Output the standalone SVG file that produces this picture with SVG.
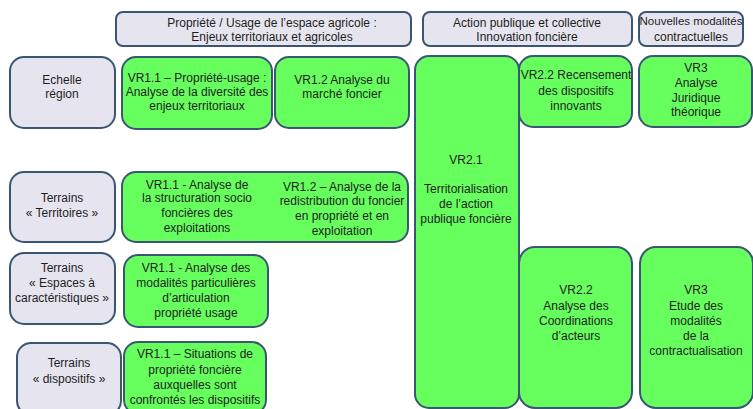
<svg xmlns="http://www.w3.org/2000/svg" width="753" height="409" viewBox="0 0 753 409">
<style>
.g{fill:#66ff5e;stroke:#3b5575;stroke-width:2}
.l{fill:#e6e5ef;stroke:#3b5575;stroke-width:2}
text{font-family:"Liberation Sans",Arial,sans-serif;font-size:12px;fill:#1e1e1e;text-anchor:middle}
</style>
<rect width="753" height="409" fill="#ffffff"/>
<g id="h1"><rect class="l" x="116" y="12" width="295" height="34" rx="7"/><text x="272" y="27">Propriété / Usage de l’espace agricole :</text><text x="272" y="41">Enjeux territoriaux et agricoles</text></g>
<g id="h2"><rect class="l" x="423" y="12" width="209" height="34" rx="7"/><text x="527" y="27">Action publique et collective</text><text x="527" y="41">Innovation foncière</text></g>
<g id="h3"><rect class="l" x="639" y="12" width="104" height="34" rx="7"/><text x="691" y="25" style="font-size:11.5px">Nouvelles modalités</text><text x="691" y="41">contractuelles</text></g>

<g id="r1"><rect class="l" x="10" y="57" width="105" height="71" rx="14"/><text x="62" y="84">Echelle</text><text x="62" y="98">région</text></g>
<g id="vr11a"><rect class="g" x="122" y="57" width="150" height="72" rx="14"/><text x="197" y="82">VR1.1 – Propriété-usage :</text><text x="197" y="96">Analyse de la diversité des</text><text x="197" y="110">enjeux territoriaux</text></g>
<g id="vr12a"><rect class="g" x="275" y="57" width="134" height="71" rx="14"/><text x="342" y="84">VR1.2 Analyse du</text><text x="342" y="98">marché foncier</text></g>
<g id="vr21"><rect class="g" x="415" y="56" width="104" height="352" rx="14"/><text x="466" y="164">VR2.1</text><text x="466" y="193">Territorialisation</text><text x="466" y="208">de l’action</text><text x="466" y="223">publique foncière</text></g>
<g id="vr22a"><rect class="g" x="519" y="56" width="113" height="71" rx="14"/><text x="576" y="79">VR2.2 Recensement</text><text x="576" y="95">des dispositifs</text><text x="576" y="110">innovants</text></g>
<g id="vr3a"><rect class="g" x="639" y="56" width="113" height="71" rx="14"/><text x="696" y="72">VR3</text><text x="696" y="87">Analyse</text><text x="696" y="102">Juridique</text><text x="696" y="116">théorique</text></g>

<g id="r2"><rect class="l" x="10" y="172" width="105" height="70" rx="14"/><text x="62" y="202">Terrains</text><text x="62" y="217">« Territoires »</text></g>
<g id="vr1r2"><rect class="g" x="122" y="172" width="286" height="70" rx="14"/><text x="197" y="189">VR1.1 - Analyse de</text><text x="197" y="202">la structuration socio</text><text x="197" y="217">foncières des</text><text x="197" y="232">exploitations</text><text x="342" y="191">VR1.2 – Analyse de la</text><text x="342" y="205">redistribution du foncier</text><text x="342" y="220">en propriété et en</text><text x="342" y="235">exploitation</text></g>

<g id="r3"><rect class="l" x="10" y="253" width="105" height="71" rx="14"/><text x="62" y="272">Terrains</text><text x="62" y="287">« Espaces à</text><text x="62" y="302">caractéristiques »</text></g>
<g id="vr1r3"><rect class="g" x="124" y="255" width="144" height="72" rx="14"/><text x="196" y="272">VR1.1 - Analyse des</text><text x="196" y="287">modalités particulières</text><text x="196" y="302">d’articulation</text><text x="196" y="317">propriété usage</text></g>

<g id="r4"><rect class="l" x="17" y="343" width="104" height="72" rx="14"/><text x="69" y="367">Terrains</text><text x="69" y="383">« dispositifs »</text></g>
<g id="vr1r4"><rect class="g" x="124" y="342" width="142" height="72" rx="14"/><text x="195" y="358">VR1.1 – Situations de</text><text x="195" y="374">propriété foncière</text><text x="195" y="389">auxquelles sont</text><text x="195" y="404">confrontés les dispositifs</text></g>

<g id="vr22b"><rect class="g" x="519" y="247" width="113" height="161" rx="16"/><text x="576" y="294">VR2.2</text><text x="576" y="310">Analyse des</text><text x="576" y="325">Coordinations</text><text x="576" y="340">d’acteurs</text></g>
<g id="vr3b"><rect class="g" x="640" y="247" width="113" height="161" rx="16"/><text x="696" y="294">VR3</text><text x="696" y="310">Etude des</text><text x="696" y="325">modalités</text><text x="696" y="340">de la</text><text x="696" y="355">contractualisation</text></g>
<g id="connectors"/>
</svg>
